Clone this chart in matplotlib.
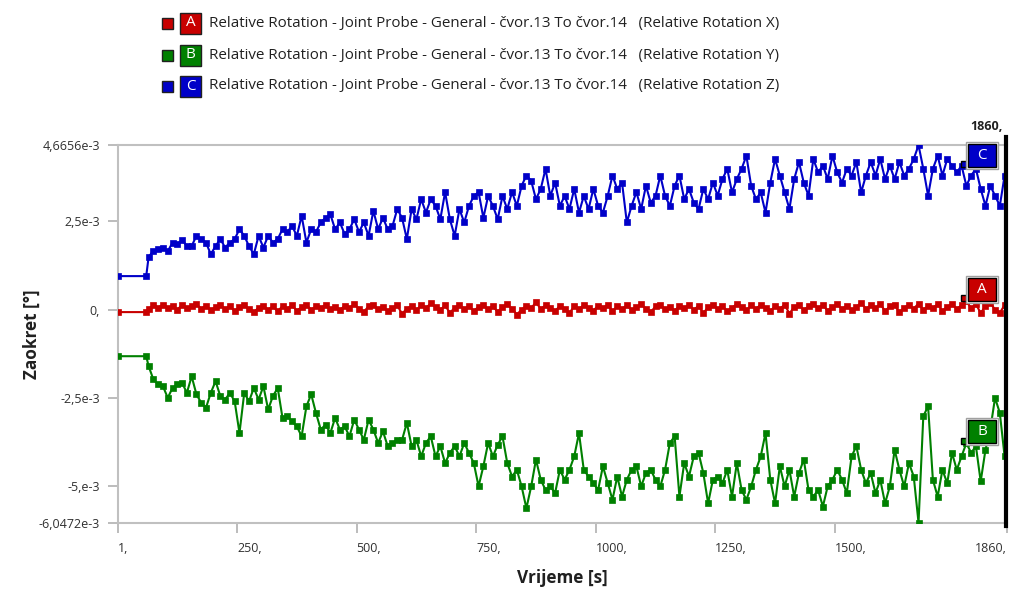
import numpy as np
import matplotlib
matplotlib.use("Agg")
import matplotlib.pyplot as plt
from matplotlib.patches import Rectangle
from matplotlib.lines import Line2D

W, H = 1009, 589
FONT = "Open Sans"

# sample times [s]: first load step, then every 10 s up to the end
t_head = [1, 60]
t_body = list(range(65, 1860, 10))
t_tail = [1860]
time_s = np.array(t_head + t_body + t_tail)

# relative rotation, in 1e-3 deg
rot_x = [-0.07, -0.07,
         0.02, 0.12, 0.06, 0.14, 0.04, 0.10, 0.00, 0.13, 0.05, 0.09,
         0.15, 0.03, 0.11, -0.02, 0.08, 0.14, 0.02, 0.10, -0.04, 0.07,
         0.12, 0.01, -0.08, 0.06, 0.11, 0.00, 0.09, -0.05, 0.10, 0.03,
         0.12, -0.03, 0.07, 0.13, 0.00, 0.09, 0.04, 0.14, 0.02, 0.08,
         -0.02, 0.11, 0.05, 0.15, 0.03, -0.06, 0.09, 0.13, 0.01, 0.07,
         -0.05, 0.06, 0.12, -0.12, 0.03, 0.10, -0.02, 0.13, 0.04, 0.18,
         0.07, -0.01, 0.12, -0.09, 0.05, 0.14, 0.02, 0.10, -0.04, 0.08,
         0.13, 0.01, 0.09, -0.06, 0.07, 0.15, 0.03, -0.14, 0.00, 0.11,
         0.04, 0.21, 0.02, 0.12, 0.06, -0.05, 0.11, 0.03, -0.09, 0.09,
         0.01, 0.13, 0.05, -0.03, 0.11, 0.04, 0.14, -0.04, 0.09, 0.02,
         0.12, -0.01, 0.07, 0.15, 0.03, -0.07, 0.09, 0.13, 0.01, 0.08,
         -0.03, 0.10, 0.04, 0.14, -0.01, 0.11, -0.10, 0.07, 0.13, 0.02,
         0.10, -0.04, 0.05, 0.16, 0.07, -0.02, 0.12, 0.03, 0.13, 0.04,
         -0.05, 0.10, 0.02, 0.14, -0.11, 0.07, 0.12, -0.01, 0.09, 0.17,
         0.04, 0.13, -0.03, 0.08, 0.15, 0.02, 0.11, -0.02, 0.07, 0.20,
         0.02, 0.12, 0.04, 0.16, -0.04, 0.09, 0.14, -0.08, 0.06, 0.13,
         0.03, 0.17, -0.01, 0.11, 0.05, 0.15, -0.03, 0.08, 0.16, 0.02,
         0.12, 0.24, 0.04, 0.16, -0.10, 0.10, 0.19, 0.00, -0.09, 0.13,
         0.15]

rot_y = [-1.32, -1.32,
         -1.60, -1.98, -2.12, -2.17, -2.50, -2.22, -2.12, -2.07, -2.36, -1.89,
         -2.40, -2.64, -2.78, -2.36, -2.03, -2.45, -2.55, -2.36, -2.60, -3.50,
         -2.36, -2.60, -2.22, -2.55, -2.17, -2.83, -2.45, -2.22, -3.07, -3.02,
         -3.17, -3.31, -3.59, -2.74, -2.40, -2.93, -3.40, -3.26, -3.50, -3.07,
         -3.40, -3.31, -3.59, -3.12, -3.40, -3.69, -3.12, -3.40, -3.78, -3.45,
         -3.87, -3.78, -3.69, -3.69, -3.21, -3.87, -3.69, -4.16, -3.78, -3.59,
         -4.16, -3.87, -4.35, -4.06, -3.87, -4.16, -3.78, -4.06, -4.35, -5.01,
         -4.44, -3.78, -4.16, -3.83, -3.59, -4.35, -4.73, -4.54, -5.01, -5.63,
         -5.01, -4.25, -4.82, -5.11, -5.01, -5.20, -4.54, -4.82, -4.54, -4.16,
         -3.50, -4.54, -4.73, -4.92, -5.11, -4.44, -4.92, -5.39, -4.73, -5.30,
         -4.82, -4.54, -4.44, -5.01, -4.63, -4.54, -4.82, -5.01, -4.54, -3.78,
         -3.59, -5.30, -4.35, -4.73, -4.16, -4.06, -4.63, -5.49, -4.82, -4.73,
         -4.92, -4.54, -5.30, -4.35, -5.11, -5.39, -5.01, -4.54, -4.16, -3.50,
         -4.82, -5.49, -4.44, -5.01, -4.54, -5.30, -4.63, -4.25, -5.11, -5.30,
         -5.11, -5.58, -5.01, -4.82, -4.54, -4.82, -5.20, -4.16, -3.87, -4.54,
         -4.92, -4.63, -5.20, -4.82, -5.49, -5.01, -3.97, -4.54, -5.01, -4.35,
         -4.73, -6.04, -3.02, -2.74, -4.82, -5.30, -4.54, -4.92, -4.06, -4.54,
         -4.16, -3.78, -4.06, -3.87, -4.87, -3.97, -3.40, -2.50, -2.93, -4.16,
         -4.30]

rot_z = [0.95, 0.95,
         1.49, 1.67, 1.71, 1.76, 1.65, 1.90, 1.85, 1.98, 1.80, 1.80,
         2.09, 2.00, 1.90, 1.57, 1.80, 2.00, 1.76, 1.90, 2.00, 2.28,
         2.09, 1.80, 1.57, 2.09, 1.76, 2.09, 1.90, 2.00, 2.28, 2.20,
         2.37, 2.09, 2.66, 1.90, 2.28, 2.20, 2.47, 2.60, 2.70, 2.28,
         2.47, 2.14, 2.28, 2.56, 2.20, 2.47, 2.09, 2.80, 2.28, 2.60,
         2.28, 2.37, 2.85, 2.60, 2.00, 2.85, 2.56, 3.13, 2.75, 3.13,
         2.94, 2.56, 3.33, 2.56, 2.09, 2.85, 2.47, 2.94, 3.22, 3.33,
         2.60, 3.22, 2.94, 2.56, 3.22, 2.85, 3.33, 2.94, 3.51, 3.80,
         3.65, 3.13, 3.42, 3.99, 3.22, 3.60, 2.94, 3.22, 2.85, 3.42,
         2.75, 3.22, 2.85, 3.42, 2.94, 2.75, 3.22, 3.80, 3.42, 3.60,
         2.47, 2.94, 3.33, 2.85, 3.51, 3.03, 3.22, 3.80, 3.22, 2.94,
         3.51, 3.80, 3.13, 3.42, 3.03, 2.85, 3.42, 3.13, 3.60, 3.23,
         3.70, 3.99, 3.32, 3.70, 3.99, 4.36, 3.51, 3.13, 3.32, 2.75,
         3.60, 4.27, 3.80, 3.32, 2.85, 3.70, 4.18, 3.60, 3.23, 4.27,
         3.89, 4.08, 3.70, 4.36, 3.89, 3.60, 3.99, 3.80, 4.18, 3.32,
         3.80, 4.18, 3.80, 4.27, 3.70, 4.08, 3.70, 4.18, 3.80, 3.99,
         4.27, 4.66, 3.99, 3.23, 3.99, 4.36, 3.80, 4.27, 4.08, 3.89,
         4.08, 3.51, 3.80, 3.99, 3.42, 2.94, 3.51, 3.23, 2.94, 3.80,
         4.47]

series = [("A", rot_x, "#c80000", "(Relative Rotation X)"),
          ("B", rot_y, "#008000", "(Relative Rotation Y)"),
          ("C", rot_z, "#0000c8", "(Relative Rotation Z)")]

y_ticks = [4.6656e-3, 2.5e-3, 0.0, -2.5e-3, -5e-3, -6.0472e-3]
y_ticklabels = ["4,6656e-3", "2,5e-3", "0,", "-2,5e-3", "-5,e-3", "-6,0472e-3"]
x_ticks = [1, 250, 500, 750, 1000, 1250, 1500, 1860]
x_ticklabels = ["1,", "250,", "500,", "750,", "1000,", "1250,", "1500,", "1860,"]
legend_base = "Relative Rotation - Joint Probe - General - čvor.13 To čvor.14"

# tag boxes on the curves: (tag time, tag value, anchor value) in 1e-3
tag_pos = {"A": (1808, 0.58, 0.32), "B": (1808, -3.46, -3.73), "C": (1808, 4.36, 4.13)}


def fx(x):
    return x / W


def fy(y):
    return 1 - y / H


fig = plt.figure(figsize=(W / 100, H / 100), dpi=100)
fig.patch.set_facecolor("white")
ax = fig.add_axes([fx(118), fy(523), (1007 - 118) / W, (523 - 145) / H])

for tag, vals, col, _ in series:
    ax.plot(time_s, np.array(vals) * 1e-3, color=col, lw=1.5, marker="s",
            ms=4.0, mec=col, mew=0.5, zorder=3)

ax.set_xlim(1, 1860)
ax.set_ylim(-6.0472e-3, 4.6656e-3)

ax.set_yticks(y_ticks)
ax.set_yticklabels(y_ticklabels, fontsize=9, family=FONT, color="#303030")
ax.set_xticks(x_ticks)
ax.set_xticklabels(x_ticklabels, fontsize=9, family=FONT, color="#303030")
for lab in ax.get_xticklabels():
    lab.set_horizontalalignment("left")
ax.get_xticklabels()[-1].set_horizontalalignment("right")
ax.tick_params(axis="both", colors="#b0b0b0", length=7, width=1.2,
               labelcolor="#303030")
ax.tick_params(axis="y", pad=6)
ax.tick_params(axis="x", pad=7)

for side in ("top", "left", "bottom"):
    ax.spines[side].set_color("#c0c0c0")
    ax.spines[side].set_linewidth(1.5)
ax.spines["right"].set_visible(False)

ax.set_xlabel("Vrijeme [s]", fontsize=12.3, fontweight="bold", family=FONT,
              color="#202020", labelpad=10)
ax.set_ylabel("Zaokret [°]", fontsize=12.3, fontweight="bold", family=FONT,
              color="#202020")
ax.yaxis.set_label_coords(-0.087, 0.5)

# time cursor at the last step
fig.add_artist(Line2D([fx(1006), fx(1006)], [fy(137), fy(526)], color="black",
                      lw=3, transform=fig.transFigure))
fig.text(fx(1003), fy(126), "1860,", ha="right", va="center", fontsize=9,
         fontweight="bold", family=FONT, color="#202020")

# tag boxes attached to the curves, 28 x 23 px
bw = 28 / 0.4782
bh = 23 / 35.2 * 1e-3
gx = 2 / 0.4782
gy = 2 / 35.2 * 1e-3
for tag, vals, col, _ in series:
    tx, ty, ay = tag_pos[tag]
    ax.plot([1771], [ay * 1e-3], marker="s", ms=4.5, color=col, mec="black",
            mew=1, zorder=4, clip_on=False)
    ax.add_patch(Rectangle((tx - bw / 2 - gx, ty * 1e-3 - bh / 2 - gy),
                           bw + 2 * gx, bh + 2 * gy, fc="white", ec="#a0a0a0",
                           lw=1, zorder=5, clip_on=False))
    ax.add_patch(Rectangle((tx - bw / 2, ty * 1e-3 - bh / 2), bw, bh, fc=col,
                           ec="black", lw=1, zorder=6, clip_on=False))
    ax.text(tx, ty * 1e-3, tag, ha="center", va="center", color="white",
            fontsize=11, family=FONT, zorder=7)

# legend
for i, (tag, vals, col, suffix) in enumerate(series):
    yc = [23, 55, 86][i]
    fig.add_artist(Rectangle((fx(162), fy(yc + 6)), 11 / W, 11 / H, fc=col,
                             ec="#202020", lw=1, transform=fig.transFigure))
    fig.add_artist(Rectangle((fx(180), fy(yc + 11)), 21 / W, 21 / H, fc=col,
                             ec="#202020", lw=1, transform=fig.transFigure))
    fig.text(fx(190.5), fy(yc), tag, ha="center", va="center", color="white",
             fontsize=11, family=FONT)
    fig.text(fx(209), fy(yc), legend_base + "   " + suffix, ha="left",
             va="center", fontsize=10.9, family=FONT, color="#202020")

fig.savefig("out.png", dpi=100, facecolor="white")
